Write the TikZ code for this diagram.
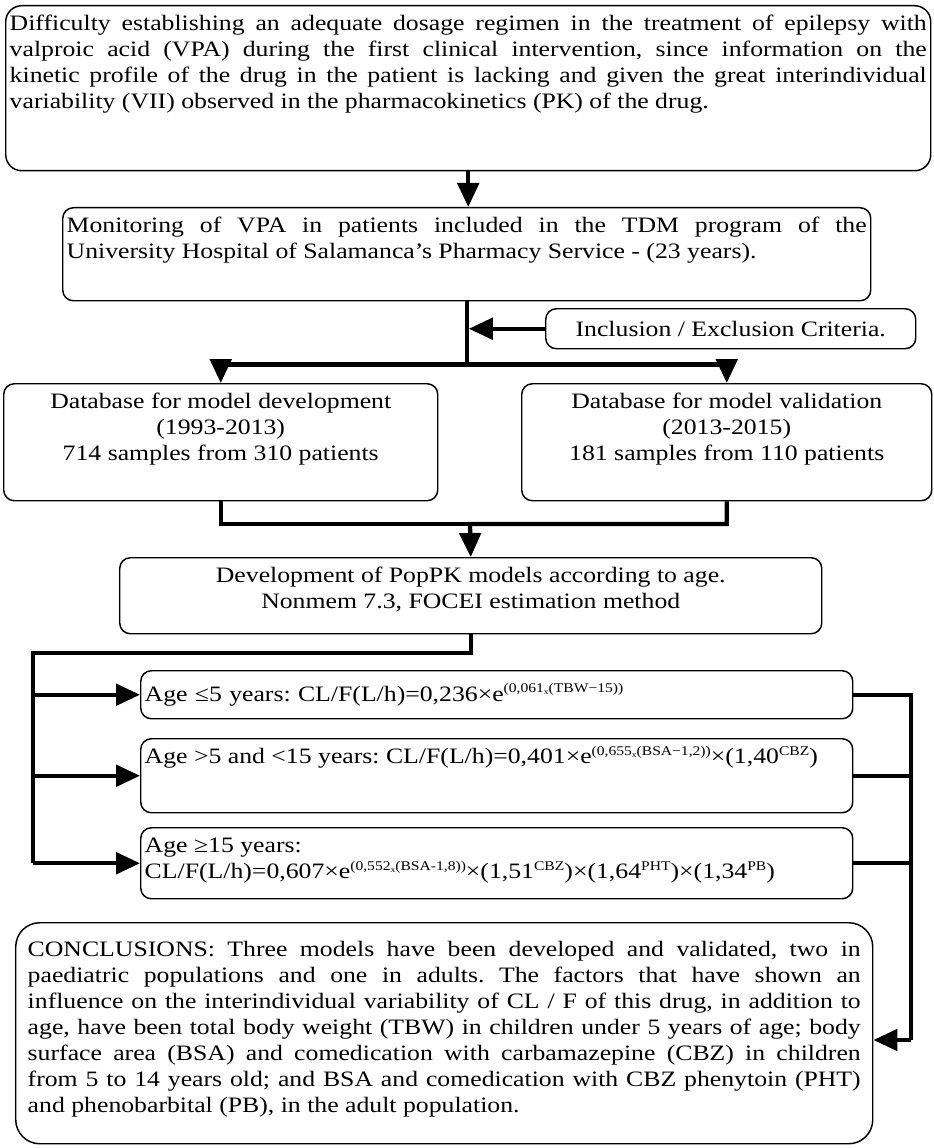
\documentclass[tikz,border=0pt]{standalone}
\usepackage{fontspec}
\setmainfont{Liberation Serif}[FakeStretch=1.17]
\usetikzlibrary{arrows.meta,calc}
\newcommand{\jline}[1]{\makebox[\linewidth][s]{#1}\\}
\newcommand{\sups}[1]{\raisebox{0.85ex}{\fontsize{10}{10}\selectfont #1}}
\newcommand{\subx}{\raisebox{-0.35ex}{\fontsize{6}{6}\selectfont x}}
\frenchspacing

\begin{document}
\begin{tikzpicture}[x=0.75pt,y=-0.75pt,
    box/.style={draw,line width=1.1pt,rounded corners=8pt,inner xsep=3pt,inner ysep=5pt,
      anchor=north west,font=\fontsize{16.5}{19.5}\selectfont\frenchspacing},
    wire/.style={line width=3.2pt},
    conn/.style={line width=3.2pt,-{Triangle[length=18pt,width=16pt]}}]
  \useasboundingbox (0,0) rectangle (933,1148);

  %boxes
  \node[box,rounded corners=12pt] (problem) at (5,5) {\parbox[t][113.75pt][t]{687.75pt}{\strut
    \jline{Difficulty establishing an adequate dosage regimen in the treatment of epilepsy with}
    \jline{valproic acid (VPA) during the first clinical intervention, since information on the}
    \jline{kinetic profile of the drug in the patient is lacking and given the great interindividual}
    variability (VII) observed in the pharmacokinetics (PK) of the drug.}};
  \node[box] (monitor) at (62,207) {\parbox[t][59.75pt][t]{600pt}{\strut
    \jline{Monitoring of VPA in patients included in the TDM program of the}
    University Hospital of Salamanca’s Pharmacy Service - (23 years).}};
  \node[box,minimum width=277.5pt,minimum height=30pt] (incl) at (545,308) {Inclusion / Exclusion Criteria.};
  \node[box] (dev) at (3,383) {\parbox[t][77.75pt][t]{319.5pt}{\centering\strut
    Database for model development\\(1993-2013)\\714 samples from 310 patients}};
  \node[box] (val) at (521,383) {\parbox[t][77.75pt][t]{301.5pt}{\centering\strut
    Database for model validation\\(2013-2015)\\181 samples from 110 patients}};
  \node[box] (pop) at (119,557) {\parbox[t][47pt][t]{520.5pt}{\centering\strut
    Development of PopPK models according to age.\\Nonmem 7.3, FOCEI estimation method}};

  %models
  \node[box,minimum width=534pt,minimum height=36pt,text width=528pt] (ageA) at (140,670)
    {Age ≤5 years: CL/F(L/h)=0,236×e\sups{(0,061\subx(TBW−15))}};
  \node[box] (ageB) at (140,738) {\parbox[t][45.5pt][t]{528pt}{\strut
    Age >5 and <15 years: CL/F(L/h)=0,401×e\sups{(0,655\subx(BSA−1,2))}×(1,40\sups{CBZ})}};
  \node[box] (ageC) at (140,827) {\parbox[t][43.25pt][t]{528pt}{\strut
    Age ≥15 years:\\
    CL/F(L/h)=0,607×e\sups{(0,552\subx(BSA-1,8))}×(1,51\sups{CBZ})×(1,64\sups{PHT})×(1,34\sups{PB})}};

  \node[box,rounded corners=18pt,inner xsep=9pt,inner ysep=9pt] (concl) at (15,922) {\parbox[t][147.75pt][t]{624.75pt}{\rule{0pt}{16pt}%
    \jline{CONCLUSIONS: Three models have been developed and validated, two in}
    \jline{paediatric populations and one in adults. The factors that have shown an}
    \jline{influence on the interindividual variability of CL / F of this drug, in addition to}
    \jline{age, have been total body weight (TBW) in children under 5 years of age; body}
    \jline{surface area (BSA) and comedication with carbamazepine (CBZ) in children}
    \jline{from 5 to 14 years old; and BSA and comedication with CBZ phenytoin (PHT)}
    and phenobarbital (PB), in the adult population.}};

  %arrows
  \draw[conn] (problem.south) -- (problem.south |- monitor.north);
  \path (monitor.south) ++(0,63) coordinate (split);
  \draw[wire] (monitor.south) -- (split);
  \draw[conn,shorten >=1.6pt] (incl.west) -- (incl.west -| monitor.south);
  \draw[conn] (split) -| (dev.north);
  \draw[conn] (split) -| (val.north);

  \coordinate (merge) at (470,524);
  \draw[wire] (dev.south) |- (merge);
  \draw[conn] (val.south) |- (merge) -- (pop.north);

  \coordinate (busL) at (33,653);
  \draw[wire] (pop.south) |- (busL) -- (busL |- ageC.west);
  \foreach \n in {ageA,ageB,ageC}
    \draw[conn] (busL |- \n.west) -- (\n.west);

  \coordinate (busR) at (911,1040);
  \draw[wire] (ageA.east) -| (busR);
  \draw[wire] (ageB.east) -- (ageB.east -| busR);
  \draw[wire] (ageC.east) -- (ageC.east -| busR);
  \draw[conn] (busR) -- (busR -| concl.east);
\end{tikzpicture}
\end{document}
